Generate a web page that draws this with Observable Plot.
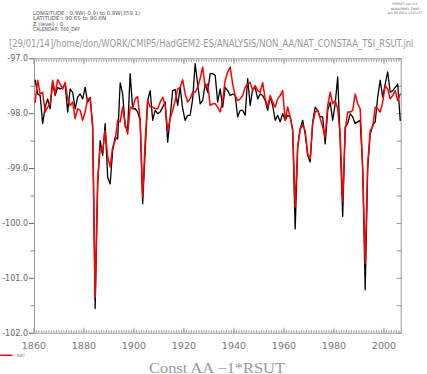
<!DOCTYPE html>
<html>
<head>
<meta charset="utf-8">
<script src="https://cdn.jsdelivr.net/npm/d3@7"></script>
<script src="https://cdn.jsdelivr.net/npm/@observablehq/plot@0.6"></script>
<style>
  html, body { margin: 0; padding: 0; background: #fff; }
  #chart svg { display: block; overflow: visible; }
</style>
</head>
<body>
<div id="chart"></div>
<script>
// ---- data ----
const years = d3.range(1860, 2007);

const constAA = [ // black line
  -97.39, -97.64, -97.67, -98.18, -97.88, -97.73, -97.91, -97.43, -97.67, -97.52,
  -97.55, -97.52, -97.46, -97.97, -97.55, -97.61, -97.91, -97.70, -97.64, -97.73,
  -97.52, -97.79, -97.70, -98.25, -101.55, -99.30, -98.49, -98.76, -98.18, -99.16,
  -99.28, -98.67, -98.43, -98.46, -97.44, -97.64, -98.24, -98.28, -97.27, -97.91,
  -97.91, -97.97, -98.12, -99.64, -98.67, -97.76, -97.58, -98.12, -97.94, -98.00,
  -97.97, -97.88, -97.79, -98.52, -98.06, -97.58, -97.56, -97.85, -97.52, -97.91,
  -98.12, -98.03, -98.03, -97.73, -97.09, -97.46, -97.82, -97.76, -97.46, -97.61,
  -97.27, -97.27, -97.30, -97.79, -97.55, -97.88, -97.52, -97.58, -97.67, -97.64,
  -97.67, -98.06, -97.94, -97.94, -98.03, -97.36, -97.85, -97.55, -97.52, -97.73,
  -97.64, -97.67, -97.76, -97.94, -97.70, -97.85, -98.12, -98.03, -98.15, -98.00,
  -98.12, -98.03, -98.06, -98.30, -100.10, -98.60, -98.28, -98.12, -98.37, -98.76,
  -98.88, -98.15, -97.88, -97.94, -98.06, -98.06, -98.55, -97.94, -97.79, -98.12,
  -97.82, -97.33, -98.50, -99.87, -98.24, -98.18, -98.00, -98.06, -98.18, -98.15,
  -98.12, -99.00, -101.21, -99.00, -98.37, -98.21, -98.15, -97.70, -97.39, -97.70,
  -97.46, -97.24, -97.61, -97.58, -97.52, -97.46, -98.12
];

const nat = [ // red line
  -97.79, -97.39, -97.64, -97.61, -97.97, -97.88, -97.82, -97.39, -97.64, -97.38,
  -97.46, -97.55, -97.43, -97.73, -97.85, -97.79, -98.09, -97.91, -97.94, -98.12,
  -97.97, -97.73, -97.73, -98.20, -101.35, -99.20, -98.61, -98.67, -98.31, -98.79,
  -98.97, -98.61, -98.49, -98.12, -98.15, -97.88, -98.18, -98.37, -97.88, -97.91,
  -97.73, -97.69, -98.12, -99.52, -98.49, -97.75, -97.88, -97.88, -97.91, -97.91,
  -97.79, -97.70, -97.85, -98.31, -98.09, -97.94, -97.76, -97.55, -97.52, -97.38,
  -97.64, -97.79, -97.73, -97.61, -97.61, -97.52, -97.36, -97.15, -97.52, -97.46,
  -97.85, -97.82, -97.82, -97.88, -97.97, -97.76, -97.39, -97.24, -97.15, -97.46,
  -97.67, -97.76, -97.73, -97.67, -97.52, -97.46, -97.43, -97.58, -97.49, -97.58,
  -97.61, -97.43, -97.73, -97.88, -97.67, -97.79, -97.88, -97.73, -97.67, -97.58,
  -98.12, -97.88, -98.06, -98.30, -99.70, -98.60, -98.28, -98.21, -98.31, -98.73,
  -98.82, -98.18, -97.97, -97.94, -98.09, -98.24, -98.43, -97.85, -97.61, -97.82,
  -97.76, -97.91, -98.40, -99.60, -98.31, -97.97, -97.97, -97.94, -97.64, -97.82,
  -97.91, -99.00, -100.73, -98.90, -98.31, -98.24, -97.88, -97.91, -97.97, -97.79,
  -97.49, -97.55, -97.73, -97.67, -97.58, -97.76, -97.64
];

const xLabelTicks = [1860, 1880, 1900, 1920, 1940, 1960, 1980, 2000];
const xMinorTicks = d3.range(1861, 2007);
const yLabelTicks = [-102, -101, -100, -99, -98, -97];
const yHalfTicks = [-101.5, -100.5, -99.5, -98.5, -97.5];
const yAllTicks = [-102, -101.5, -101, -100.5, -100, -99.5, -99, -98.5, -98, -97.5, -97];

const headerLeft = [
  "LONGITUDE : 0.9W(-0.9) to 0.9W(359.1)",
  "LATITUDE : 90.6S to 90.6N",
  "Z (level) : 0",
  "CALENDAR: 360_DAY"
];
const headerRight = ["FERRET Ver. 6.1", "NOAA/PMEL TMAP", "Jan 29 2014 13:21:37"];
const titleText = "[29/01/14]/home/don/WORK/CMIP5/HadGEM2-ES/ANALYSIS/NON_AA/NAT_CONSTAA_TSI_RSUT.jnl";
const bottomTitle = "Const AA \u22121*RSUT";
const legendLabel = "NAT";

// ---- tables ----
const blackData = years.map((y, i) => ({t: y + 0.5, v: constAA[i]}));
const redData = years.map((y, i) => ({t: y + 0.5, v: nat[i]}));

const W = 427, H = 374;
const none = () => "";

const chart = Plot.plot({
  width: W,
  height: H,
  marginLeft: 34,
  marginRight: 26.3,
  marginTop: 58.3,
  marginBottom: 41.3,
  style: {fontFamily: "DejaVu Sans, sans-serif", background: "#fff", overflow: "visible"},
  x: {domain: [1860.24, 2006.9]},
  y: {domain: [-102, -97]},
  marks: [
    Plot.frame({stroke: "#999", strokeWidth: 1}),
    Plot.axisY(yLabelTicks, {anchor: "left", tickSize: 5, tickPadding: 1.5, tickFormat: d => d.toFixed(1), fontSize: 8, color: "#666", label: null}),
    Plot.axisY(yHalfTicks, {anchor: "left", tickSize: 3.5, tickFormat: none, color: "#888", label: null}),
    Plot.axisY(yAllTicks, {anchor: "right", tickSize: -5, tickFormat: none, color: "#999", label: null}),
    Plot.axisX(xMinorTicks, {anchor: "top", tickSize: -2.5, tickFormat: none, color: "#999", label: null}),
    Plot.axisX(xLabelTicks, {anchor: "top", tickSize: -5, tickFormat: none, color: "#999", label: null}),
    Plot.axisX(xMinorTicks, {anchor: "bottom", tickSize: -2.5, tickFormat: none, color: "#999", label: null}),
    Plot.axisX(xLabelTicks, {anchor: "bottom", tickSize: -5, tickFormat: none, color: "#999", label: null}),
    Plot.axisX(xLabelTicks, {anchor: "bottom", tickSize: 0, tickPadding: 9, tickFormat: d => String(d), fontSize: 9.5, color: "#777", label: null}),
    Plot.lineY(blackData, {x: "t", y: "v", stroke: "#000", strokeWidth: 1.3}),
    Plot.lineY(redData, {x: "t", y: "v", stroke: "#ff0000", strokeWidth: 1.5})
  ]
});

const svg = d3.select(chart);
const g = svg.append("g")
  .attr("font-family", "DejaVu Sans, sans-serif")
  .attr("text-anchor", "start")
  .style("text-anchor", "start");

const leftYs = [14.6, 20.2, 25.8, 31.2];
const leftWs = [107, 73, 30, 47];
headerLeft.forEach((s, i) => {
  g.append("text").attr("x", 33).attr("y", leftYs[i])
    .attr("font-size", 5.4).attr("fill", "#555")
    .attr("textLength", leftWs[i]).attr("lengthAdjust", "spacingAndGlyphs").text(s);
});
const rightYs = [5.4, 9.6, 13.8];
headerRight.forEach((s, i) => {
  g.append("text").attr("x", 405).attr("y", rightYs[i])
    .attr("font-size", 3.2).attr("fill", "#666")
    .attr("text-anchor", "middle").style("text-anchor", "middle").text(s);
});
g.append("text").attr("transform", "translate(9,47) scale(1,1.22)")
  .attr("font-size", 8.4).attr("fill", "#999").text(titleText);

// legend
g.append("line").attr("x1", 0).attr("x2", 12.5).attr("y1", 355.3).attr("y2", 355.3)
  .attr("stroke", "#ff0000").attr("stroke-width", 1.5);
g.append("text").attr("x", 16.5).attr("y", 357).attr("font-size", 4.5).attr("fill", "#888").text(legendLabel);

// bottom title
g.append("text").attr("x", 149).attr("y", 372.5).attr("font-family", "Liberation Serif, serif")
  .attr("font-size", 14.5).attr("fill", "#999").attr("textLength", 136)
  .attr("lengthAdjust", "spacingAndGlyphs").text(bottomTitle);

document.getElementById("chart").appendChild(chart);
</script>
</body>
</html>
